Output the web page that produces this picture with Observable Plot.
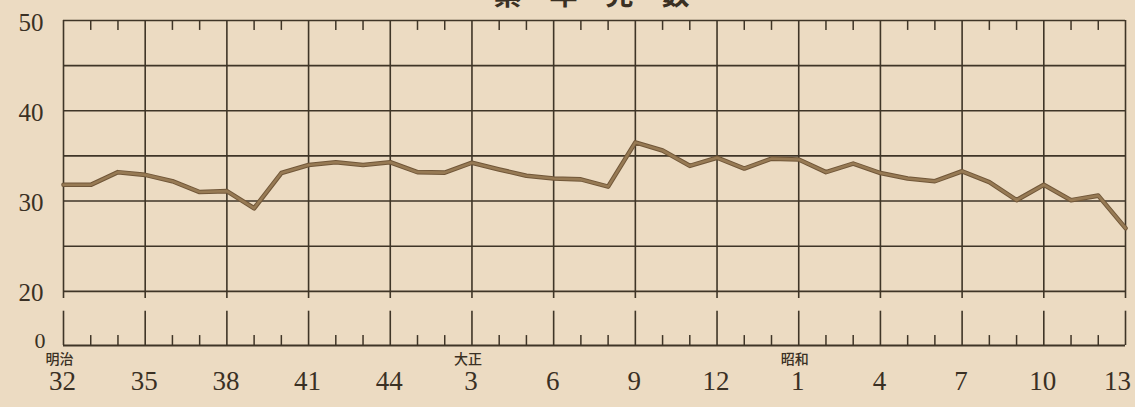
<!DOCTYPE html>
<html>
<head>
<meta charset="utf-8">
<script src="https://cdn.jsdelivr.net/npm/d3@7"></script>
<script src="https://cdn.jsdelivr.net/npm/@observablehq/plot@0.6"></script>
<style>
  html, body { margin: 0; padding: 0; background: #ecdbc2; }
  #chart svg { display: block; }
</style>
</head>
<body>
<div id="chart"></div>
<script>
// Years (Meiji 32 = 1899 ... Showa 13 = 1938)
const years = [1899,1900,1901,1902,1903,1904,1905,1906,1907,1908,
               1909,1910,1911,1912,1913,1914,1915,1916,1917,1918,
               1919,1920,1921,1922,1923,1924,1925,1926,1927,1928,
               1929,1930,1931,1932,1933,1934,1935,1936,1937,1938];
// Values
const values = [31.8,31.8,33.2,32.9,32.2,31.0,31.1,29.2,33.1,34.0,
                34.3,34.0,34.3,33.2,33.15,34.25,33.5,32.8,32.5,32.4,
                31.6,36.5,35.6,33.9,34.8,33.6,34.7,34.6,33.2,34.15,
                33.1,32.5,32.2,33.3,32.1,30.1,31.8,30.1,30.6,27.0];

const majorYears = [1899,1902,1905,1908,1911,1914,1917,1920,1923,1926,1929,1932,1935,1938];
const majorLabels = ["32","35","38","41","44","3","6","9","12","1","4","7","10","13"];
const minorYears = years.filter(y => !majorYears.includes(y));
const eraYears = [1899, 1914, 1926];
const eraNames = ["明治", "大正", "昭和"];
const gridValues = [20, 25, 30, 35, 40, 45, 50];
const yTickValues = [20, 30, 40, 50];
const zeroPos = 14;           // where the "0" baseline sits after the axis break
const titleText = "累\u3000年\u3000児\u3000数";

const data = years.map((y, i) => ({year: y, value: values[i]}));
const labels = majorYears.map((y, i) => ({year: y, label: majorLabels[i]}));
const lastYear = majorYears[majorYears.length - 1];

const ink = "#3f3527";
const serif = "Liberation Serif, DejaVu Serif, serif";
const cjk = "Noto Sans CJK JP, sans-serif";

const chart = Plot.plot({
  width: 1135,
  height: 407,
  marginLeft: 63,
  marginRight: 10,
  marginTop: 20,
  marginBottom: 62,
  style: {background: "#ecdbc2"},
  x: {domain: [1899, 1938], axis: null},
  y: {domain: [zeroPos, 50], axis: null},
  marks: [
    // horizontal grid
    Plot.ruleY(gridValues, {stroke: ink, strokeWidth: 1.6}),
    Plot.ruleY([zeroPos], {stroke: ink, strokeWidth: 1.8}),
    // vertical major lines, broken between 20 and 0
    Plot.ruleX(majorYears, {x: d => d, y1: 19.2, y2: 50, stroke: ink, strokeWidth: 1.6}),
    Plot.ruleX(majorYears, {x: d => d, y1: zeroPos, y2: 17.8, stroke: ink, strokeWidth: 1.6}),
    // minor ticks at bottom and top
    Plot.ruleX(minorYears, {x: d => d, y1: zeroPos, y2: zeroPos + 1.1, stroke: ink, strokeWidth: 1.5}),
    Plot.ruleX(minorYears, {x: d => d, y1: 50, y2: 48.9, stroke: ink, strokeWidth: 1.5}),
    // data line
    Plot.line(data, {x: "year", y: "value", stroke: "#715739", strokeWidth: 4.6, strokeLinejoin: "round"}),
    Plot.line(data, {x: "year", y: "value", stroke: "#977a54", strokeWidth: 2.6, strokeLinejoin: "round"}),
    // y labels
    Plot.text(yTickValues, {frameAnchor: "left", y: d => d, text: d => String(d), textAnchor: "end",
      dx: -20, dy: 2, fontSize: 25, fontFamily: serif, fill: "#3a3024"}),
    Plot.text([zeroPos], {frameAnchor: "left", y: d => d, text: () => "0", textAnchor: "end",
      dx: -18, dy: -5, fontSize: 22, fontFamily: serif, fill: "#3a3024"}),
    // x labels
    Plot.text(labels.filter(d => d.year !== lastYear), {x: "year", frameAnchor: "bottom", text: "label",
      dx: -1, dy: 44, fontSize: 27, fontFamily: serif, fill: "#3a3024"}),
    Plot.text(labels.filter(d => d.year === lastYear), {x: "year", frameAnchor: "bottom", text: "label",
      dx: -8, dy: 44, fontSize: 27, fontFamily: serif, fill: "#3a3024"}),
    // era labels
    Plot.text(eraYears, {x: d => d, frameAnchor: "bottom", text: (d, i) => eraNames[i],
      dx: -4, dy: 18, fontSize: 14, fontFamily: cjk, fontWeight: 500, fill: "#3a3024"}),
    // title (cut off at the top as in the source)
    Plot.text([titleText], {frameAnchor: "top", text: d => d, dx: -3, dy: -16, lineAnchor: "bottom",
      fontSize: 28, fontWeight: "bold", fontFamily: cjk, fill: "#3a3024"})
  ]
});
document.getElementById("chart").append(chart);
</script>
</body>
</html>
